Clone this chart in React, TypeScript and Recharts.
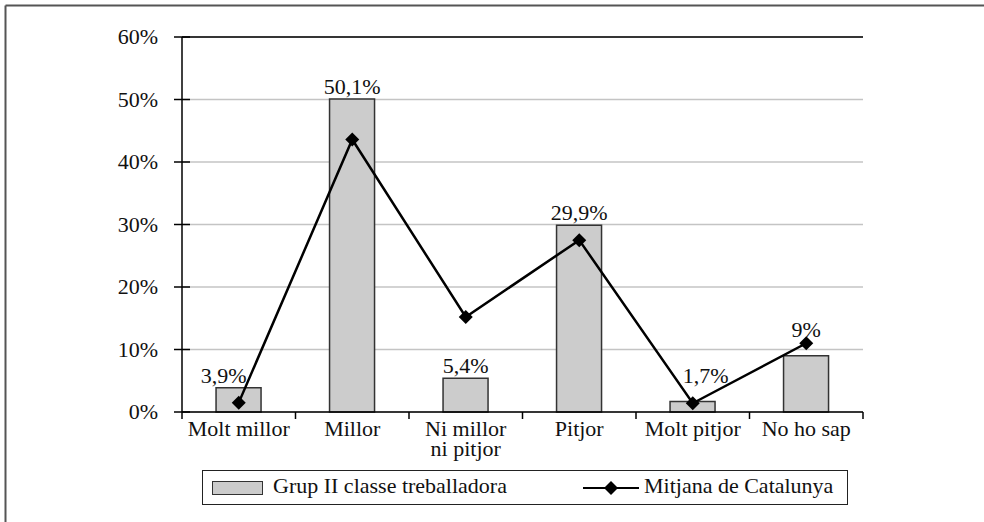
import { ComposedChart, Bar, Line, XAxis, YAxis, CartesianGrid, LabelList, ReferenceLine } from 'recharts'

const categories = ['Molt millor', 'Millor', 'Ni millor\nni pitjor', 'Pitjor', 'Molt pitjor', 'No ho sap']
const grupValues = [3.9, 50.1, 5.4, 29.9, 1.7, 9.0]
const mitjanaValues = [1.5, 43.6, 15.2, 27.5, 1.4, 11.0]
const yTicks = [0, 10, 20, 30, 40, 50, 60]

const grupName = 'Grup II classe treballadora'
const mitjanaName = 'Mitjana de Catalunya'

// small nudges so the value labels keep clear of the line
const labelNudge = [
  { dx: -15, dy: 0 },
  { dx: 0, dy: 0 },
  { dx: 0, dy: 0 },
  { dx: 0, dy: 0 },
  { dx: 13, dy: -13 },
  { dx: 0, dy: -14 },
]

const FONT = '"Liberation Serif", "Times New Roman", serif'
const FS = 22
const W = 984
const H = 522
const PLOT_LEFT = 182
const PLOT_RIGHT = 863
const BAND = (PLOT_RIGHT - PLOT_LEFT) / categories.length

const data = categories.map((name, i) => ({
  name,
  grup: grupValues[i],
  mitjana: mitjanaValues[i],
}))

const fmt = (v: number) => `${String(v).replace('.', ',')}%`

function YTick(props: any) {
  const { x, y, payload } = props
  const axisX = x + 24
  return (
    <g>
      <line x1={axisX - 8} x2={axisX + 8} y1={y} y2={y} stroke="#000" strokeWidth={1.5} />
      <text x={x} y={y} dy={7} textAnchor="end" fontFamily={FONT} fontSize={FS} fill="#111">
        {payload.value}%
      </text>
    </g>
  )
}

function XTick(props: any) {
  const { x, y, payload, index } = props
  const axisY = y - 10
  const lines = String(payload.value).split('\n')
  return (
    <g>
      <line x1={x - BAND / 2} x2={x - BAND / 2} y1={axisY} y2={axisY + 7} stroke="#000" strokeWidth={1.5} />
      {index === categories.length - 1 && (
        <line x1={x + BAND / 2} x2={x + BAND / 2} y1={axisY} y2={axisY + 7} stroke="#000" strokeWidth={1.5} />
      )}
      {lines.map((l, i) => (
        <text
          key={i}
          x={x}
          y={axisY + 24 + i * 20}
          textAnchor="middle"
          fontFamily={FONT}
          fontSize={FS}
          fill="#111"
        >
          {l}
        </text>
      ))}
    </g>
  )
}

function BarLabel(props: any) {
  const { x, y, width, value, index } = props
  const n = labelNudge[index] || { dx: 0, dy: 0 }
  return (
    <text
      x={x + width / 2 + n.dx}
      y={y - 5 + n.dy}
      textAnchor="middle"
      fontFamily={FONT}
      fontSize={FS}
      fill="#111"
    >
      {fmt(value)}
    </text>
  )
}

function Diamond(props: any) {
  const { cx, cy } = props
  if (cx == null || cy == null) return null
  const r = 7
  return <polygon points={`${cx},${cy - r} ${cx + r},${cy} ${cx},${cy + r} ${cx - r},${cy}`} fill="#000" />
}

function LegendBox() {
  return (
    <div
      style={{
        position: 'absolute',
        left: 202,
        top: 470,
        width: 646,
        height: 35,
        border: '1.5px solid #222',
        boxSizing: 'border-box',
        fontFamily: FONT,
        fontSize: FS,
        color: '#111',
        background: '#fff',
      }}
    >
      <div style={{ position: 'absolute', left: 9, top: 10, width: 51, height: 14, background: '#cccccc', border: '1.5px solid #333', boxSizing: 'border-box' }} />
      <div style={{ position: 'absolute', left: 70, top: 2, whiteSpace: 'nowrap' }}>{grupName}</div>
      <svg style={{ position: 'absolute', left: 380, top: 8 }} width={56} height={18}>
        <line x1={0} x2={56} y1={9} y2={9} stroke="#000" strokeWidth={2} />
        <polygon points="28,2 35,9 28,16 21,9" fill="#000" />
      </svg>
      <div style={{ position: 'absolute', left: 441, top: 2, whiteSpace: 'nowrap' }}>{mitjanaName}</div>
    </div>
  )
}

export default function App() {
  return (
    <div style={{ position: 'absolute', left: 0, top: 0, width: W, height: H, background: '#fff' }}>
      <div style={{ position: 'absolute', left: 0, top: 0 }}>
        <ComposedChart
          width={W}
          height={H}
          data={data}
          margin={{ top: 37, right: W - PLOT_RIGHT, bottom: 50, left: 0 }}
          barCategoryGap="30%"
        >
          <CartesianGrid horizontal vertical={false} stroke="#c4c4c4" strokeWidth={1.5} />
          <XAxis
            dataKey="name"
            height={60}
            tickLine={false}
            tickSize={8}
            tickMargin={2}
            interval={0}
            axisLine={{ stroke: '#000', strokeWidth: 1.5 }}
            tick={<XTick />}
          />
          <YAxis
            width={PLOT_LEFT}
            domain={[0, 60]}
            ticks={yTicks}
            tickLine={false}
            tickSize={8}
            tickMargin={16}
            axisLine={{ stroke: '#000', strokeWidth: 1.5 }}
            tick={<YTick />}
          />
          <YAxis yAxisId="right" orientation="right" width={0} domain={[0, 60]} tick={false} tickLine={false} axisLine={{ stroke: '#000', strokeWidth: 1.5 }} />
          <ReferenceLine y={60} stroke="#000" strokeWidth={1.5} />
          <Bar dataKey="grup" name={grupName} fill="#cccccc" stroke="#333" strokeWidth={1.5} isAnimationActive={false}>
            <LabelList dataKey="grup" content={<BarLabel />} />
          </Bar>
          <Line
            dataKey="mitjana"
            name={mitjanaName}
            stroke="#000"
            strokeWidth={2.5}
            dot={<Diamond />}
            activeDot={false}
            isAnimationActive={false}
          />
        </ComposedChart>
      </div>
      <LegendBox />
      <svg
        width={W}
        height={H}
        style={{ position: 'absolute', left: 0, top: 0, zIndex: 10, pointerEvents: 'none' }}
      >
        <line x1={5.5} y1={5.5} x2={W} y2={5.5} stroke="#555" strokeWidth={2} />
        <line x1={5.5} y1={5.5} x2={5.5} y2={H} stroke="#555" strokeWidth={2} />
      </svg>
    </div>
  )
}
